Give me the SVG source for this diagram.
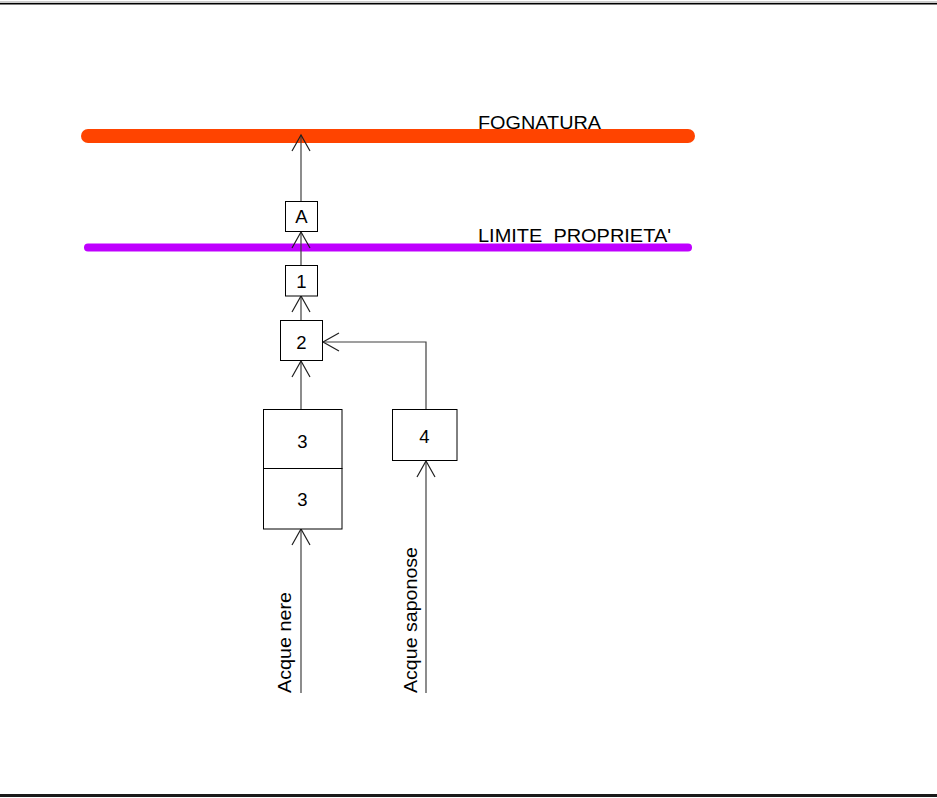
<svg xmlns="http://www.w3.org/2000/svg" width="937" height="798" viewBox="0 0 937 798">
<defs>
<style>
.box{fill:#fff;stroke:#000;stroke-width:1}
.lbl{font-family:"Liberation Sans",Arial,sans-serif;font-size:18.5px;fill:#000;text-anchor:middle}
.big{font-family:"Liberation Sans",Arial,sans-serif;font-size:18.5px;fill:#000;white-space:pre}
.conn{fill:none;stroke:#404040;stroke-width:1.2}
</style>
<marker id="arr" markerUnits="userSpaceOnUse" markerWidth="20" markerHeight="20" viewBox="-18 -10 20 20" refX="0" refY="0" orient="auto">
<path d="M-16,-9 L0,0 L-16,9" fill="none" stroke="#202020" stroke-width="1.2"/>
</marker>
</defs>
<rect x="0" y="0" width="937" height="798" fill="#fff"/>
<g id="frame">
<line x1="0" y1="2" x2="937" y2="2" stroke="#999" stroke-width="1"/>
<line x1="0" y1="3.8" x2="937" y2="3.8" stroke="#000" stroke-width="1.5"/>
<line x1="0" y1="795.5" x2="937" y2="795.5" stroke="#1a1a1a" stroke-width="3"/>
</g>
<g id="fognatura">
<line x1="88" y1="136" x2="688" y2="136" stroke="#FF4400" stroke-width="14" stroke-linecap="round"/>
<text class="big" x="478" y="128.5" textLength="123" lengthAdjust="spacingAndGlyphs">FOGNATURA</text>
</g>
<g id="limite">
<line x1="88" y1="247.5" x2="688" y2="247.5" stroke="#BF00FF" stroke-width="8" stroke-linecap="round"/>
<text class="big" x="478" y="242" textLength="193" lengthAdjust="spacingAndGlyphs" xml:space="preserve">LIMITE  PROPRIETA'</text>
</g>
<g id="connectors">
<line class="conn" x1="301" y1="201" x2="301" y2="135" marker-end="url(#arr)"/>
<line class="conn" x1="301" y1="265" x2="301" y2="232" marker-end="url(#arr)"/>
<line class="conn" x1="301" y1="321" x2="301" y2="296" marker-end="url(#arr)"/>
<line class="conn" x1="301" y1="409" x2="301" y2="361" marker-end="url(#arr)"/>
<line class="conn" x1="301" y1="693" x2="301" y2="529" marker-end="url(#arr)"/>
<line class="conn" x1="426" y1="693" x2="426" y2="461" marker-end="url(#arr)"/>
<polyline class="conn" points="426,409 426,342 323,342" marker-end="url(#arr)"/>
</g>
<g id="nodeA">
<rect class="box" x="285.5" y="201.5" width="32" height="30"/>
<text class="lbl" x="301.5" y="223">A</text>
</g>
<g id="node1">
<rect class="box" x="285.5" y="265.5" width="32" height="30.5"/>
<text class="lbl" x="301.5" y="288">1</text>
</g>
<g id="node2">
<rect class="box" x="280.5" y="320.5" width="42" height="40"/>
<text class="lbl" x="301.5" y="348.5">2</text>
</g>
<g id="node3a">
<rect class="box" x="263.5" y="409.5" width="78.5" height="59"/>
<text class="lbl" x="302.5" y="448">3</text>
</g>
<g id="node3b">
<rect class="box" x="263.5" y="468.5" width="78.5" height="60.5"/>
<text class="lbl" x="302.5" y="506">3</text>
</g>
<g id="node4">
<rect class="box" x="392.5" y="409.5" width="64.5" height="51"/>
<text class="lbl" x="424.5" y="442.5">4</text>
</g>
<g id="labels">
<text class="big" transform="translate(291,693) rotate(-90)" x="0" y="0" textLength="101" lengthAdjust="spacingAndGlyphs">Acque nere</text>
<text class="big" transform="translate(417,693) rotate(-90)" x="0" y="0" textLength="146" lengthAdjust="spacingAndGlyphs">Acque saponose</text>
</g>
</svg>
